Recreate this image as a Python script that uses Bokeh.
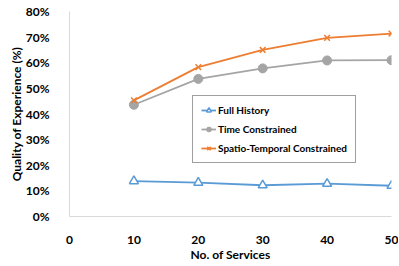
from bokeh.plotting import figure
from bokeh.models import Legend, PrintfTickFormatter, FixedTicker, Range1d
from bokeh.embed import file_html
from bokeh.resources import INLINE

services = [10, 20, 30, 40, 50]
full_history = [13.8, 13.2, 12.2, 12.8, 12.0]
time_constrained = [43.6, 53.7, 57.8, 60.9, 61.0]
spatio_temporal = [45.3, 58.3, 65.0, 69.7, 71.4]
x_ticks = [0, 10, 20, 30, 40, 50]
y_ticks = [0, 10, 20, 30, 40, 50, 60, 70, 80]

FONT = "Lato"
BLUE = "#5B9BD5"
GRAY = "#A5A5A5"
ORANGE = "#ED7D31"

p = figure(width=398, height=264, output_backend="svg", toolbar_location=None,
           x_range=Range1d(0, 50), y_range=Range1d(0, 80),
           min_border_left=69, min_border_right=7, min_border_top=11, min_border_bottom=48)
p.outline_line_color = None
p.xgrid.grid_line_color = None
p.ygrid.grid_line_color = None

r1l = p.line(services, full_history, line_color=BLUE, line_width=1.8)
r1m = p.scatter(services, full_history, marker="triangle", size=9, line_color=BLUE,
                fill_color="white", line_width=1.5)
r2l = p.line(services, time_constrained, line_color=GRAY, line_width=1.8)
r2m = p.scatter(services, time_constrained, marker="circle", size=9, line_color=GRAY,
                fill_color=GRAY)
r3l = p.line(services, spatio_temporal, line_color=ORANGE, line_width=1.8)
r3m = p.scatter(services, spatio_temporal, marker="x", size=8, line_color=ORANGE,
                line_width=1.5)

for ax in (p.xaxis[0], p.yaxis[0]):
    ax.axis_line_color = "#d9d9d9"
    ax.major_tick_line_color = None
    ax.minor_tick_line_color = None
    ax.major_label_text_font = FONT
    ax.major_label_text_font_style = "bold"
    ax.major_label_text_font_size = "12px"
    ax.major_label_text_color = "black"
    ax.axis_label_text_font = FONT
    ax.axis_label_text_font_style = "bold"
    ax.axis_label_text_font_size = "12px"
    ax.axis_label_text_color = "black"

p.xaxis.ticker = FixedTicker(ticks=x_ticks)
p.yaxis.ticker = FixedTicker(ticks=y_ticks)
p.yaxis.formatter = PrintfTickFormatter(format="%d%%")
p.xaxis.axis_label = "No. of Services"
p.yaxis.axis_label = "Quality of Experience (%)"
p.xaxis.major_label_standoff = 13
p.xaxis.axis_label_standoff = 0
p.yaxis.major_label_standoff = 14
p.yaxis.axis_label_standoff = -1

legend = Legend(items=[("Full History", [r1l, r1m]),
                       ("Time Constrained", [r2l, r2m]),
                       ("Spatio-Temporal Constrained", [r3l, r3m])],
                location=(123, 53))
legend.label_text_font = FONT
legend.label_text_font_style = "bold"
legend.label_text_font_size = "10px"
legend.label_text_color = "black"
legend.glyph_width = 15
legend.glyph_height = 12
legend.label_height = 12
legend.label_standoff = 2
legend.spacing = 7
legend.padding = 8
legend.margin = 0
legend.border_line_color = "#404040"
legend.border_line_width = 1
legend.background_fill_alpha = 1
p.add_layout(legend, "center")

open("out.html", "w").write(file_html(p, INLINE))
